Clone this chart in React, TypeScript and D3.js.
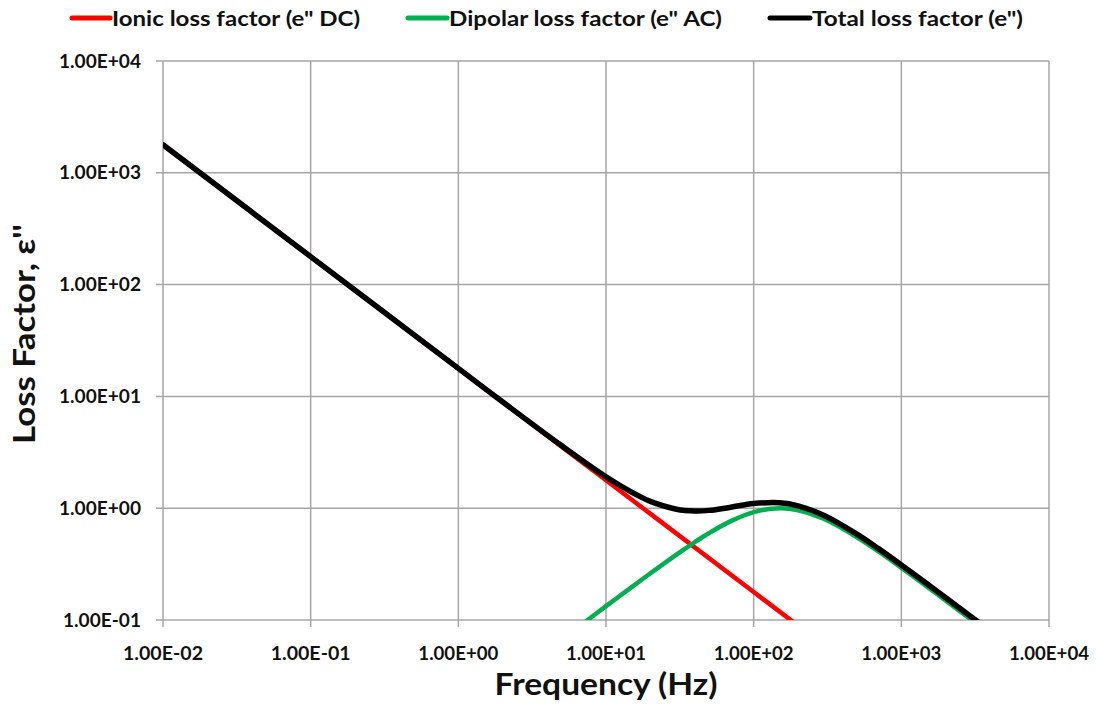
import React from 'react';
import * as d3 from 'd3';

// frequencies (Hz) and loss factor values
const ionicFreq = [0.01, 0.1, 1, 10, 100, 200];
const ionicLoss = [1780, 178, 17.8, 1.78, 0.178, 0.089];

const dipolarFreq = [7, 10, 15, 20, 30, 40, 50, 70, 100, 150, 200, 300, 500, 700, 1000, 1500, 2000, 3000, 4000];
const dipolarLoss = [0.093, 0.133, 0.198, 0.262, 0.385, 0.498, 0.6, 0.766, 0.923, 1.0, 0.96, 0.8, 0.55, 0.41, 0.293, 0.198, 0.149, 0.1, 0.075];

const totalFreq = [0.01, 0.1, 1, 2, 5, 10, 15, 20, 30, 40, 50, 70, 100, 150, 200, 300, 500, 700, 1000, 1500, 2000, 3000, 4000];
const totalLoss = [1780, 178, 17.8, 8.91, 3.63, 1.91, 1.385, 1.15, 0.978, 0.943, 0.956, 1.02, 1.1, 1.12, 1.05, 0.86, 0.586, 0.435, 0.311, 0.21, 0.158, 0.106, 0.08];

const xTicks = [0.01, 0.1, 1, 10, 100, 1000, 10000];
const xTickLabels = ['1.00E-02', '1.00E-01', '1.00E+00', '1.00E+01', '1.00E+02', '1.00E+03', '1.00E+04'];
const yTicks = [0.1, 1, 10, 100, 1000, 10000];
const yTickLabels = ['1.00E-01', '1.00E+00', '1.00E+01', '1.00E+02', '1.00E+03', '1.00E+04'];

const seriesNames = ['Ionic loss factor (e" DC)', 'Dipolar loss factor (e" AC)', 'Total loss factor (e")'];
const seriesColors = ['#ff0000', '#00b050', '#000000'];

const FONT = "Lato, 'Open Sans', 'Liberation Sans', sans-serif";

const App = () => {
  // plot box
  const left = 163, right = 1049, top = 61, bottom = 620;
  const grid = '#a6a6a6';

  const x = d3.scaleLog().domain([0.01, 10000]).range([left, right]);
  const y = d3.scaleLog().domain([0.1, 10000]).range([bottom, top]);

  const line = d3.line<[number, number]>()
    .x(d => x(d[0]))
    .y(d => y(d[1]))
    .curve(d3.curveCatmullRom.alpha(0.5));

  const ionic = line(ionicFreq.map((f, i) => [f, ionicLoss[i]]));
  const dipolar = line(dipolarFreq.map((f, i) => [f, dipolarLoss[i]]));
  const total = line(totalFreq.map((f, i) => [f, totalLoss[i]]));

  // legend layout
  const legend = [
    { lx: 72, tx: 112, w: 248 },
    { lx: 408, tx: 449, w: 273 },
    { lx: 770, tx: 812, w: 211 },
  ];

  return (
    <svg width={1097} height={717} style={{ position: 'absolute', left: 0, top: 0, background: '#fff' }}>
      <defs>
        <clipPath id="plot-clip">
          <rect x={left} y={top - 5} width={right - left} height={bottom - top + 5} />
        </clipPath>
      </defs>

      {/* gridlines */}
      {xTicks.map(t => (
        <line key={'gx' + t} x1={x(t)} x2={x(t)} y1={top} y2={bottom + 7} stroke={grid} strokeWidth={1.5} />
      ))}
      {yTicks.map(t => (
        <line key={'gy' + t} x1={left - 7} x2={right} y1={y(t)} y2={y(t)} stroke={grid} strokeWidth={1.5} />
      ))}

      {/* tick labels */}
      {xTicks.map((t, i) => (
        <text key={'xl' + t} x={x(t)} y={660} textAnchor="middle" fontFamily={FONT} fontWeight="bold"
          fontSize={18} fill="#111" textLength={80} lengthAdjust="spacingAndGlyphs">
          {xTickLabels[i]}
        </text>
      ))}
      {yTicks.map((t, i) => (
        <text key={'yl' + t} x={141} y={y(t) + 6.5} textAnchor="end" fontFamily={FONT} fontWeight="bold"
          fontSize={18} fill="#111" textLength={i === 0 ? 78 : 82} lengthAdjust="spacingAndGlyphs">
          {yTickLabels[i]}
        </text>
      ))}

      {/* series */}
      <g clipPath="url(#plot-clip)" fill="none" strokeLinejoin="round" strokeLinecap="round">
        <path d={ionic ?? ''} stroke={seriesColors[0]} strokeWidth={4.5} />
        <path d={dipolar ?? ''} stroke={seriesColors[1]} strokeWidth={4.5} />
        <path d={total ?? ''} stroke={seriesColors[2]} strokeWidth={5.5} />
      </g>

      {/* legend */}
      {seriesNames.map((name, i) => (
        <g key={name}>
          <line x1={legend[i].lx} x2={legend[i].tx - 2} y1={18} y2={18} stroke={seriesColors[i]} strokeWidth={5} strokeLinecap="round" />
          <text x={legend[i].tx} y={26} fontFamily={FONT} fontWeight="bold" fontSize={21} fill="#111"
            textLength={legend[i].w} lengthAdjust="spacingAndGlyphs">
            {name}
          </text>
        </g>
      ))}

      {/* axis titles */}
      <text x={(left + right) / 2} y={695} textAnchor="middle" fontFamily={FONT} fontWeight="bold"
        fontSize={31} fill="#111" textLength={223} lengthAdjust="spacingAndGlyphs">
        Frequency (Hz)
      </text>
      <text transform="translate(35,334) rotate(-90)" textAnchor="middle" fontFamily={FONT} fontWeight="bold"
        fontSize={31} fill="#111" textLength={220} lengthAdjust="spacingAndGlyphs">
        Loss Factor, ε''
      </text>
    </svg>
  );
};

export default App;
